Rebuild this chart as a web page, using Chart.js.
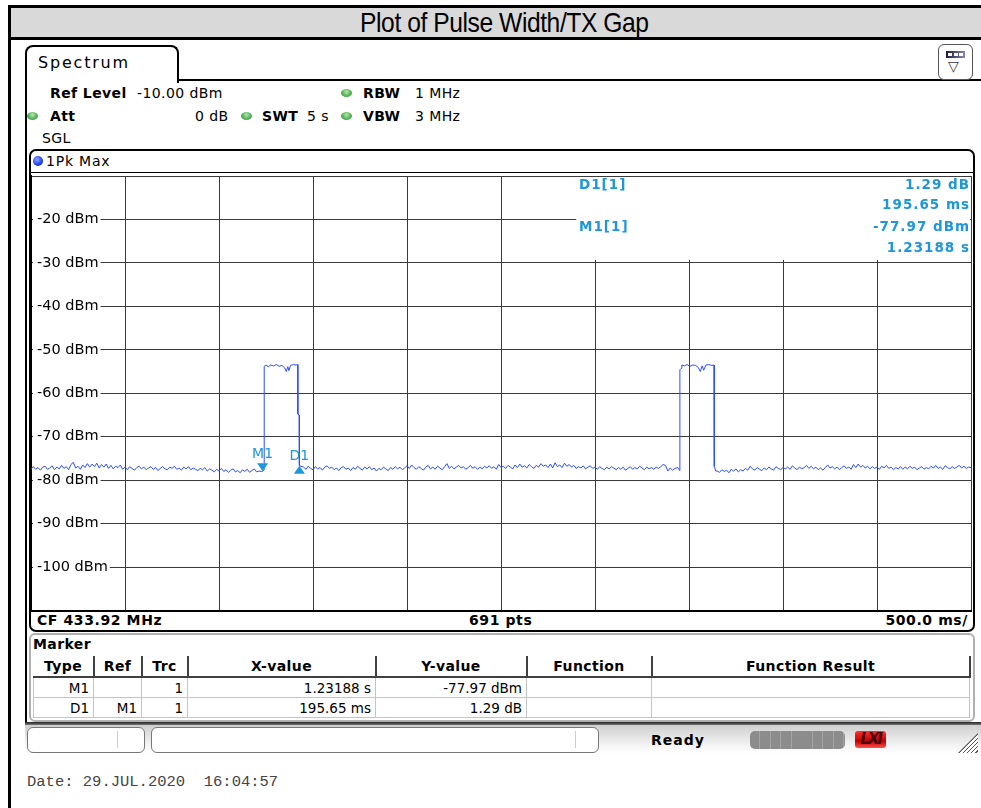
<!DOCTYPE html>
<html>
<head>
<meta charset="utf-8">
<script src="https://cdn.jsdelivr.net/npm/chart.js@4.4.1/dist/chart.umd.min.js"></script>
<style>
  body { margin: 0; width: 981px; height: 808px; overflow: hidden; background: #fff; position: relative;
         font-family: 'DejaVu Sans', sans-serif; color: #000; }
  .abs { position: absolute; white-space: nowrap; }
  .lbl { font-size: 14px; line-height: 16px; letter-spacing: 0.4px; }
  .b { font-weight: bold; }
  .dot { position: absolute; width: 11px; height: 8px; border-radius: 50%;
         background: radial-gradient(circle at 50% 35%, #b8e6b0, #4caf50 60%, #2e7d32); }
  .readout { position: absolute; color: #1e96dc; font-weight: bold; font-size: 13.5px; line-height: 16px;
             letter-spacing: 1px; white-space: nowrap; }
  .readout.r { text-align: right; right: 11px; }
  .bar { position: absolute; font-weight: bold; font-size: 14px; line-height: 16px; letter-spacing: 0.6px; white-space: nowrap; }
  table.mk { position: absolute; left: 33px; top: 656px; width: 936px; border-collapse: collapse;
             font-size: 13.5px; table-layout: fixed; }
  table.mk th { height: 20px; font-weight: bold; font-size: 14px; letter-spacing: 0.4px; padding: 0;
                border-bottom: 2px solid #404040; border-right: 2px solid #404040; }
  table.mk td { height: 19px; padding: 0 4px 0 0; text-align: right; border: 1px solid #c4c4c4; }
</style>
</head>
<body>
<!-- outer frame and title -->
<div class="abs" style="left:8px;top:5px;width:973px;height:3px;background:#000"></div>
<div class="abs" style="left:8px;top:5px;width:3px;height:803px;background:#000"></div>
<div class="abs" style="left:11px;top:8px;width:970px;height:29px;background:#d9d9d9"></div>
<div class="abs" style="left:11px;top:37px;width:970px;height:3px;background:#000"></div>
<div class="abs" style="left:11px;top:6px;width:984px;height:34px;text-align:center;font-family:'Liberation Sans',sans-serif;font-size:28px;line-height:34px;letter-spacing:-0.5px;transform:scaleX(0.88);transform-origin:503px 0">Plot of Pulse Width/TX Gap</div>

<!-- tab -->
<div class="abs" style="left:25px;top:45px;width:150px;height:36px;border:2px solid #000;border-bottom:none;border-radius:8px 8px 0 0;background:#fff"></div>
<div class="abs" style="left:177px;top:79px;width:804px;height:2px;background:#000"></div>
<div class="abs" style="left:25px;top:80px;width:2px;height:644px;background:#000"></div>
<div class="abs" style="left:38px;top:53px;font-size:16px;line-height:20px;letter-spacing:1.8px">Spectrum</div>
<div class="abs" style="left:938px;top:44px;width:33px;height:34px;border:1.5px solid #555;border-radius:6px;background:#fff"></div>
<div class="abs" style="left:946px;top:51px;width:19px;height:7px;background:linear-gradient(90deg,#1a1a40,#8a8ab0)"></div>
<div class="abs" style="left:948px;top:53px;width:4px;height:3px;background:#fff"></div>
<div class="abs" style="left:953.5px;top:53px;width:4px;height:3px;background:#fff"></div>
<div class="abs" style="left:959px;top:53px;width:4px;height:3px;background:#fff"></div>
<div class="abs" style="left:948px;top:58px;font-size:14px;line-height:16px;color:#333">▽</div>

<!-- settings -->
<div class="abs lbl b" style="left:50px;top:85px">Ref Level</div>
<div class="abs lbl" style="left:137px;top:85px">-10.00 dBm</div>
<div class="dot" style="left:341px;top:89px"></div>
<div class="abs lbl b" style="left:363px;top:85px">RBW</div>
<div class="abs lbl" style="left:415px;top:85px">1 MHz</div>
<div class="dot" style="left:27px;top:112px"></div>
<div class="abs lbl b" style="left:50px;top:108px">Att</div>
<div class="abs lbl" style="left:195px;top:108px">0 dB</div>
<div class="dot" style="left:241px;top:112px"></div>
<div class="abs lbl b" style="left:262px;top:108px">SWT</div>
<div class="abs lbl" style="left:307px;top:108px">5 s</div>
<div class="dot" style="left:341px;top:112px"></div>
<div class="abs lbl b" style="left:363px;top:108px">VBW</div>
<div class="abs lbl" style="left:415px;top:108px">3 MHz</div>
<div class="abs lbl" style="left:42px;top:130px">SGL</div>

<!-- trace window frame -->
<div class="abs" style="left:29px;top:149px;width:942px;height:479px;border:2px solid #000;border-radius:7px"></div>
<div class="abs" style="left:33px;top:156px;width:10px;height:10px;border-radius:50%;background:radial-gradient(circle at 40% 35%,#8fa8ff,#1f3cf0 60%,#0a1a90)"></div>
<div class="abs lbl" style="left:46px;top:153px;letter-spacing:0.8px">1Pk Max</div>
<div class="abs" style="left:31px;top:172px;width:942px;height:1px;background:#000"></div>

<canvas id="trace" width="944" height="440" class="abs" style="left:30px;top:172px"></canvas>

<div class="readout" style="left:579px;top:176px">D1[1]</div>
<div class="readout r" style="top:176px">1.29 dB</div>
<div class="readout r" style="top:196px">195.65 ms</div>
<div class="readout" style="left:579px;top:218px">M1[1]</div>
<div class="readout r" style="top:218px">-77.97 dBm</div>
<div class="readout r" style="top:239px">1.23188 s</div>

<div class="bar" style="left:37px;top:612px">CF 433.92 MHz</div>
<div class="bar" style="left:469px;top:612px">691 pts</div>
<div class="bar" style="right:13px;top:612px">500.0 ms/</div>

<!-- marker table -->
<div class="abs" style="left:29px;top:633px;width:942px;height:85px;border:2px solid #b0b0b0;border-radius:6px"></div>
<div class="abs lbl b" style="left:33px;top:636px">Marker</div>
<table class="mk">
  <colgroup><col style="width:60px"><col style="width:48px"><col style="width:46px"><col style="width:188px"><col style="width:151px"><col style="width:125px"><col style="width:318px"></colgroup>
  <tr><th>Type</th><th>Ref</th><th>Trc</th><th>X-value</th><th>Y-value</th><th>Function</th><th>Function Result</th></tr>
  <tr><td>M1</td><td></td><td>1</td><td>1.23188 s</td><td>-77.97 dBm</td><td></td><td></td></tr>
  <tr><td>D1</td><td>M1</td><td>1</td><td>195.65 ms</td><td>1.29 dB</td><td></td><td></td></tr>
</table>

<!-- status bar -->
<div class="abs" style="left:25px;top:722px;width:956px;height:3px;background:linear-gradient(#222,#777)"></div>
<div class="abs" style="left:25px;top:725px;width:956px;height:29px;background:linear-gradient(#cfcfcf,#f4f4f4 70%,#fff)"></div>
<div class="abs" style="left:27px;top:727px;width:116px;height:24px;border:1.5px solid #777;border-radius:6px;background:#fff"></div>
<div class="abs" style="left:117px;top:731px;width:1px;height:17px;background:#ccc"></div>
<div class="abs" style="left:151px;top:727px;width:446px;height:24px;border:1.5px solid #777;border-radius:6px;background:#fff"></div>
<div class="abs" style="left:575px;top:731px;width:1px;height:17px;background:#ccc"></div>
<div class="abs lbl b" style="left:651px;top:732px;letter-spacing:1px">Ready</div>
<div class="abs" style="left:750px;top:731px;width:95px;height:18px;border-radius:5px;background:repeating-linear-gradient(90deg,#8c8c8c 0,#8c8c8c 9.5px,#a4a4a4 9.5px,#a4a4a4 10.5px)"></div>
<div class="abs" style="left:855px;top:731px;width:31px;height:17px;border-radius:3px;background:linear-gradient(#ff3030,#c00000 60%,#ff5050);color:#4a0010;font:italic bold 15px/17px 'DejaVu Sans';text-align:center;letter-spacing:-2px">LXI</div>
<div class="abs" style="left:958px;top:733px;width:20px;height:20px;clip-path:polygon(100% 0,100% 100%,0 100%);background:repeating-linear-gradient(135deg,#fff 0,#fff 2px,#555 2px,#555 3px)"></div>

<div class="abs" style="left:27px;top:773px;font-family:'Liberation Mono',monospace;font-size:15.5px;line-height:18px;color:#444">Date: 29.JUL.2020&nbsp; 16:04:57</div>

<script>
// axis ticks (sweep time in s, level in dBm)
const timeTicks = [0, 0.5, 1, 1.5, 2, 2.5, 3, 3.5, 4, 4.5, 5];
const levelTicks = [-110, -100, -90, -80, -70, -60, -50, -40, -30, -20, -10];
const levelLabels = ['', '-100 dBm', '-90 dBm', '-80 dBm', '-70 dBm', '-60 dBm', '-50 dBm', '-40 dBm', '-30 dBm', '-20 dBm', ''];

// noise floor samples, one every sampleStep seconds
const sampleStep = 0.0125;
const floorAStart = 0;
const floorA = [-77.4, -76.9, -77.5, -77.1, -77.7, -77.0, -76.8, -77.5, -77.2, -76.7,
                -77.6, -77.0, -77.4, -76.6, -77.3, -76.9, -77.6, -76.4, -75.9, -77.2,
                -76.8, -77.5, -76.5, -77.1, -76.2, -77.0, -76.3, -76.9, -76.1, -77.2,
                -76.4, -77.0, -76.3, -77.3, -76.6, -77.4, -76.8, -77.1, -76.5, -77.5,
                -77.0, -77.6, -76.9, -77.3, -77.7, -77.1, -76.8, -77.4, -77.0, -77.6,
                -77.2, -76.9, -77.5, -77.1, -77.8, -77.3, -76.9, -77.4, -77.6, -77.0,
                -77.3, -76.8, -77.5, -77.2, -77.7, -77.0, -77.4, -76.9, -77.6, -77.2,
                -77.5, -77.8, -77.3, -77.6, -77.1, -77.9, -77.4, -77.7, -78.1, -77.5,
                -77.9, -77.3, -78.0, -77.6, -78.2, -77.7, -77.4, -78.1, -77.8, -78.3,
                -77.6, -78.0, -77.5, -78.2, -77.8, -77.4, -78.1, -77.9, -78.0];
const floorBStart = 1.45;
const floorB = [-77.0, -77.5, -76.8, -77.3, -77.6, -76.9, -77.4, -77.1, -77.7, -77.0,
                -76.7, -77.3, -77.0, -77.6, -77.2, -77.8, -77.1, -76.9, -77.5, -77.2,
                -77.8, -77.1, -77.5, -76.8, -77.3, -77.7, -77.0, -77.4, -76.9, -77.6,
                -77.2, -77.9, -77.3, -77.6, -77.0, -77.4, -77.8, -77.1, -77.5, -76.9,
                -77.4, -77.0, -77.6, -77.2, -76.7, -77.3, -76.5, -77.1, -77.5, -76.9,
                -77.3, -77.7, -77.0, -76.6, -77.4, -77.0, -77.5, -76.8, -77.2, -77.6,
                -76.9, -76.2, -77.3, -76.8, -77.4, -77.0, -76.6, -77.2, -76.9, -77.5,
                -77.1, -76.6, -77.3, -76.9, -77.5, -77.0, -77.4, -76.8, -77.2, -76.7,
                -77.3, -76.9, -77.5, -76.4, -77.1, -76.8, -77.3, -76.6, -77.0, -77.4,
                -76.5, -77.1, -76.3, -77.0, -76.7, -77.2, -76.4, -76.9, -77.3, -76.6,
                -77.0, -76.2, -76.8, -76.5, -77.1, -76.3, -77.2, -76.0, -76.9, -76.5,
                -77.1, -76.1, -76.8, -76.4, -77.0, -76.6, -77.3, -76.9, -77.2, -76.7,
                -77.4, -77.0, -76.7, -77.3, -77.0, -77.5, -76.9, -77.3, -77.6, -77.0,
                -77.4, -76.9, -77.2, -77.6, -77.1, -77.5, -77.0, -77.7, -77.3, -76.9,
                -77.5, -77.1, -77.4, -76.8, -77.2, -77.6, -77.0, -77.4, -77.1, -77.5,
                -77.0, -77.3, -76.9, -76.4, -76.6, -77.9, -77.2, -77.7, -77.3];
const floorCStart = 3.65;
const floorC = [-77.9, -78.2, -77.6, -78.0, -77.7, -78.3, -77.5, -77.9, -77.4, -78.1,
                -77.6, -77.9, -77.3, -77.7, -76.8, -77.4, -77.7, -77.1, -77.5, -77.8,
                -77.2, -77.6, -77.0, -77.4, -77.7, -76.9, -77.3, -77.6, -77.1, -77.4,
                -77.0, -77.5, -76.7, -77.2, -77.6, -77.0, -77.4, -77.1, -76.6, -77.3,
                -76.8, -77.4, -77.0, -77.6, -77.2, -77.7, -77.1, -76.5, -77.2, -76.9,
                -77.4, -77.0, -77.6, -77.1, -76.7, -77.3, -77.0, -77.5, -76.4, -77.1,
                -76.3, -77.0, -76.6, -77.2, -76.8, -77.4, -76.9, -77.3, -77.0, -77.5,
                -76.8, -77.2, -76.6, -77.3, -77.0, -77.6, -77.1, -77.4, -76.9, -77.5,
                -77.0, -77.4, -76.8, -77.3, -77.0, -77.6, -77.2, -76.9, -77.5, -77.1,
                -77.4, -76.8, -77.2, -76.6, -77.3, -77.0, -77.5, -76.7, -77.1, -77.4,
                -76.9, -77.3, -77.0, -76.6, -77.2, -76.8, -77.3, -77.0, -77.1];

// the two bursts, with their edges
const pulse1Time  = [1.23188, 1.2395, 1.2405, 1.25, 1.262, 1.275, 1.29, 1.305, 1.32, 1.335,
                     1.35, 1.358, 1.366, 1.372, 1.38, 1.395, 1.41, 1.4185, 1.4195, 1.4265, 1.42753];
const pulse1Level = [-77.97, -77.6, -53.8, -53.5, -53.9, -53.5, -53.7, -53.4, -53.8, -53.6,
                     -54.2, -55.0, -53.9, -54.8, -53.6, -53.4, -53.5, -53.4, -64.8, -65.0, -76.68];
const pulse2Time  = [3.44, 3.4505, 3.4515, 3.458, 3.462, 3.475, 3.49, 3.505, 3.52, 3.535,
                     3.55, 3.56, 3.57, 3.578, 3.59, 3.605, 3.62, 3.633, 3.6345, 3.642];
const pulse2Level = [-77.1, -77.8, -54.6, -54.3, -53.5, -53.7, -53.4, -53.8, -53.5, -53.6,
                     -54.1, -55.0, -53.7, -54.7, -53.5, -53.4, -53.6, -53.5, -76.8, -77.9];

// markers
const markerNames  = ['M1', 'D1'];
const markerTimes  = [1.23188, 1.42753];
const markerLevels = [-77.97, -76.68];

// region kept clear for the marker readout
const readoutFromTime = 2.9;
const readoutDownTo = -29.3;

const tracePoints = [];
const addFloor = (start, levels) => levels.forEach((v, i) => tracePoints.push({ x: start + i * sampleStep, y: v }));
const addPulse = (times, levels) => times.forEach((t, i) => tracePoints.push({ x: t, y: levels[i] }));
addFloor(floorAStart, floorA);
addPulse(pulse1Time, pulse1Level);
addFloor(floorBStart, floorB);
addPulse(pulse2Time, pulse2Level);
addFloor(floorCStart, floorC);

const markerColor = '#1e96dc';

// keep both axes from reserving room: labels sit inside the plot
const noRoom = (scale) => {
    if (scale.isHorizontal()) scale.height = 0; else scale.width = 0;
    scale.paddingTop = 0; scale.paddingBottom = 0;
    scale.paddingLeft = 0; scale.paddingRight = 0;
};

const overlayPlugin = {
    id: 'overlay',
    beforeDatasetsDraw(chart) {
        const { ctx, chartArea } = chart;
        const x = chart.scales.x, y = chart.scales.y;
        const left = x.getPixelForValue(readoutFromTime);
        const bottom = y.getPixelForValue(readoutDownTo);
        ctx.save();
        ctx.fillStyle = '#fff';
        ctx.fillRect(left, chartArea.top + 1, chartArea.right - 1 - left, bottom - chartArea.top - 1);
        ctx.restore();
    },
    afterDatasetsDraw(chart) {
        const { ctx } = chart;
        const x = chart.scales.x, y = chart.scales.y;
        ctx.save();
        ctx.fillStyle = markerColor;
        ctx.font = "14px 'DejaVu Sans'";
        ctx.textAlign = 'center';
        ctx.textBaseline = 'bottom';
        markerNames.forEach((name, i) => {
            const px = x.getPixelForValue(markerTimes[i]);
            const py = y.getPixelForValue(markerLevels[i]);
            // first marker points down onto the trace, delta marker points up
            const base = i === 0 ? py - 8 : py + 8;
            ctx.beginPath();
            ctx.moveTo(px, py);
            ctx.lineTo(px - 5.5, base);
            ctx.lineTo(px + 5.5, base);
            ctx.closePath();
            ctx.fill();
            ctx.fillText(name, px, Math.min(py, base) - 2);
        });
        ctx.restore();
    }
};

new Chart(document.getElementById('trace'), {
    type: 'line',
    data: {
        datasets: [{
            data: tracePoints,
            borderColor: '#2d4cff',
            borderWidth: 1,
            pointRadius: 0,
            tension: 0
        }]
    },
    options: {
        responsive: false,
        animation: false,
        layout: { padding: { left: 1, top: 4, right: 3, bottom: 1.5 } },
        plugins: { legend: { display: false }, tooltip: { enabled: false } },
        scales: {
            x: {
                type: 'linear', min: 0, max: 5,
                afterBuildTicks: (scale) => { scale.ticks = timeTicks.map(v => ({ value: v })); },
                afterFit: noRoom,
                ticks: { display: false },
                grid: { color: '#3a3a3a', lineWidth: 1, drawTicks: false },
                border: { color: '#000', width: 2 }
            },
            y: {
                type: 'linear', min: -110, max: -10,
                afterBuildTicks: (scale) => { scale.ticks = levelTicks.map(v => ({ value: v })); },
                afterFit: noRoom,
                ticks: {
                    mirror: true,
                    padding: 6,
                    color: '#000',
                    font: { family: 'DejaVu Sans', size: 14.5 },
                    callback: (v, i) => levelLabels[i],
                    showLabelBackdrop: (c) => !!levelLabels[c.index],
                    backdropColor: '#fff',
                    backdropPadding: { left: 4, right: 2, top: 0, bottom: 0 }
                },
                grid: { color: '#3a3a3a', lineWidth: 1, drawTicks: false },
                border: { color: '#000', width: 2 }
            }
        }
    },
    plugins: [overlayPlugin]
});
</script>
</body>
</html>
